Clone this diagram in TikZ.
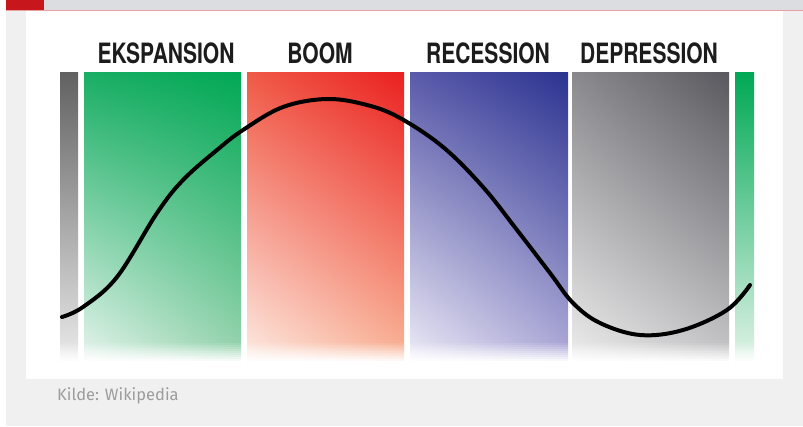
\documentclass[tikz,border=0pt]{standalone}
\usepackage{fontspec}
\setmainfont{Fira Sans}
\newfontfamily\phasefont{TeX Gyre Heros}
\usetikzlibrary{shadings}

\definecolor{headgray}{HTML}{DCDDE0}
\definecolor{headred}{HTML}{C8161D}
\definecolor{headline}{HTML}{E8A0A0}
\definecolor{panelgray}{HTML}{F0F0F0}
\definecolor{labelink}{HTML}{1C1C1C}
\definecolor{captiongray}{HTML}{9C9C9C}
% bar corners: top left, top right, bottom left, bottom right
\definecolor{ekstl}{RGB}{26,174,100}
\definecolor{ekstr}{RGB}{0,168,85}
\definecolor{eksbl}{RGB}{232,245,238}
\definecolor{eksbr}{RGB}{155,212,176}
\definecolor{boomtl}{RGB}{240,90,70}
\definecolor{boomtr}{RGB}{234,32,32}
\definecolor{boombl}{RGB}{253,236,228}
\definecolor{boombr}{RGB}{249,182,152}
\definecolor{rectl}{RGB}{90,90,170}
\definecolor{rectr}{RGB}{43,51,144}
\definecolor{recbl}{RGB}{238,236,247}
\definecolor{recbr}{RGB}{176,172,217}
\definecolor{deptl}{RGB}{138,138,142}
\definecolor{deptr}{RGB}{88,88,94}
\definecolor{depbl}{RGB}{238,238,238}
\definecolor{depbr}{RGB}{200,200,202}
\definecolor{edgegreen}{RGB}{0,168,85}
\definecolor{edgegreenlow}{RGB}{226,243,232}

\newcommand{\phasename}[1]{\scalebox{0.75}[1]{#1}}

\begin{document}
\begin{tikzpicture}[
    x = 1pt,
    y = -1pt,
    phase/.style={font=\phasefont\bfseries\fontsize{28}{28}\selectfont, text=labelink, inner sep=0pt},
    wave/.style={line width=4pt, line cap=round, black}
]
\useasboundingbox (0,0) rectangle (803,426);

% --- Frame ---
\fill[panelgray] (6,11) rectangle (803,426);
\fill[white] (26,11) rectangle (783,379);
\fill[headgray] (6,0) rectangle (803,10);
\fill[headred] (6,0) rectangle (44,10);
\draw[headline, line width=1pt] (6,10.5) -- (803,10.5);

% --- Phase bars ---
\shade[top color=black!62, bottom color=black!8] (60,72) rectangle (78,363);
\shade[upper left=ekstl, upper right=ekstr, lower left=eksbl, lower right=eksbr] (84,72) rectangle (241,363);
\shade[upper left=boomtl, upper right=boomtr, lower left=boombl, lower right=boombr] (247,72) rectangle (404,363);
\shade[upper left=rectl, upper right=rectr, lower left=recbl, lower right=recbr] (410,72) rectangle (568,363);
\shade[upper left=deptl, upper right=deptr, lower left=depbl, lower right=depbr] (572,72) rectangle (729,363);
\shade[top color=edgegreen, bottom color=edgegreenlow] (735,72) rectangle (754,363);

% soft lower edge, whiter step by step
\foreach \i in {1,...,9}
    \fill[white, opacity=\i/10] (56,{341+2*\i}) rectangle (760,{343+2*\i});
\fill[white] (56,360.5) rectangle (760,366);

% --- Phase names ---
\node[phase] (eks) at (166,53) {\phasename{EKSPANSION}};
\node[phase] (boom) at (320,53) {\phasename{BOOM}};
\node[phase] (rec) at (488,53) {\phasename{RECESSION}};
\node[phase] (dep) at (649,53) {\phasename{DEPRESSION}};

% --- Business cycle ---
\draw[wave] plot[smooth, tension=0.6] coordinates {
    (62,317) (83,307) (117,277) (157,213) (183,180) (217,150) (243,130)
    (283,107) (327,99) (367,105) (400,118) (443,147) (483,187) (517,230)
    (550,273) (573,303) (600,323) (640,335) (683,330) (727,310) (750,285)};

% --- Source ---
\node[anchor=west, text=captiongray, font=\fontsize{16.5}{17}\selectfont, inner sep=0pt] (src) at (57,396) {Kilde: Wikipedia};

\end{tikzpicture}
\end{document}
